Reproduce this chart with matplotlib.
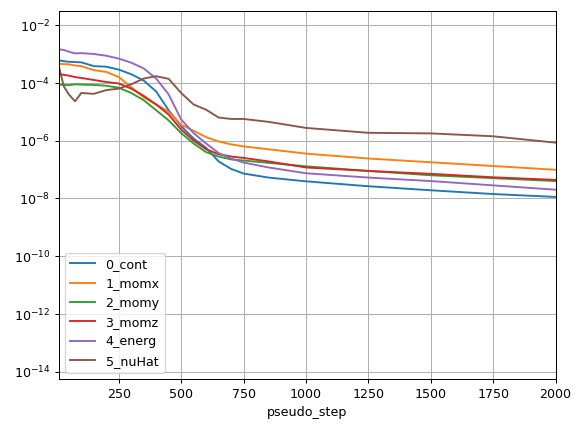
import numpy as np
import matplotlib
matplotlib.use("Agg")
import matplotlib.pyplot as plt

# pseudo steps
steps = [10, 30, 50, 75, 100, 150, 200, 250, 300, 350, 400, 450, 500, 550, 600, 650,
         700, 750, 850, 1000, 1250, 1500, 1750, 2000]

# residuals as log10 exponents
log_cont = [-3.22, -3.25, -3.27, -3.28, -3.29, -3.42, -3.44, -3.54, -3.70, -3.92, -4.30, -4.95,
            -5.50, -5.93, -6.25, -6.72, -6.98, -7.14, -7.28, -7.41, -7.58, -7.72, -7.85, -7.95]
log_momx = [-3.34, -3.35, -3.36, -3.40, -3.42, -3.56, -3.62, -3.80, -4.15, -4.50, -4.75, -5.00,
            -5.45, -5.66, -5.88, -6.03, -6.13, -6.20, -6.30, -6.45, -6.62, -6.75, -6.88, -7.01]
log_momy = [-4.06, -4.07, -4.08, -4.05, -4.06, -4.07, -4.10, -4.17, -4.35, -4.60, -4.95, -5.30,
            -5.74, -6.10, -6.40, -6.55, -6.65, -6.69, -6.77, -6.89, -7.05, -7.20, -7.30, -7.40]
log_momz = [-3.71, -3.72, -3.75, -3.80, -3.83, -3.90, -3.97, -4.02, -4.20, -4.45, -4.75, -5.10,
            -5.62, -6.00, -6.30, -6.47, -6.55, -6.60, -6.72, -6.93, -7.05, -7.15, -7.27, -7.36]
log_energ = [-2.84, -2.86, -2.92, -2.98, -2.97, -3.00, -3.06, -3.16, -3.30, -3.50, -3.85, -4.40,
             -5.27, -5.74, -6.10, -6.43, -6.62, -6.76, -6.93, -7.13, -7.28, -7.40, -7.55, -7.70]
log_nuhat = [-3.42, -4.12, -4.40, -4.64, -4.35, -4.38, -4.25, -4.20, -4.05, -3.85, -3.77, -3.86,
             -4.35, -4.75, -4.93, -5.20, -5.25, -5.25, -5.35, -5.56, -5.73, -5.75, -5.85, -6.07]

names = ["0_cont", "1_momx", "2_momy", "3_momz", "4_energ", "5_nuHat"]
series = [log_cont, log_momx, log_momy, log_momz, log_energ, log_nuhat]

fig, ax = plt.subplots(figsize=(6.4, 4.76), dpi=91)
fig.subplots_adjust(left=0.101, right=0.954, top=0.975, bottom=0.125)
for name, vals in zip(names, series):
    ax.plot(steps, 10.0 ** np.array(vals), label=name)

ax.set_yscale("log")
ax.set_xlim(steps[0], steps[-1])
ax.set_ylim(10 ** -14.25, 10 ** -1.5)
ax.set_xticks([250, 500, 750, 1000, 1250, 1500, 1750, 2000])
ax.set_yticks([1e-14, 1e-12, 1e-10, 1e-8, 1e-6, 1e-4, 1e-2])
ax.minorticks_off()
ax.set_xlabel("pseudo_step")
ax.grid(True)
ax.legend(loc="lower left")
fig.savefig("out.png")
